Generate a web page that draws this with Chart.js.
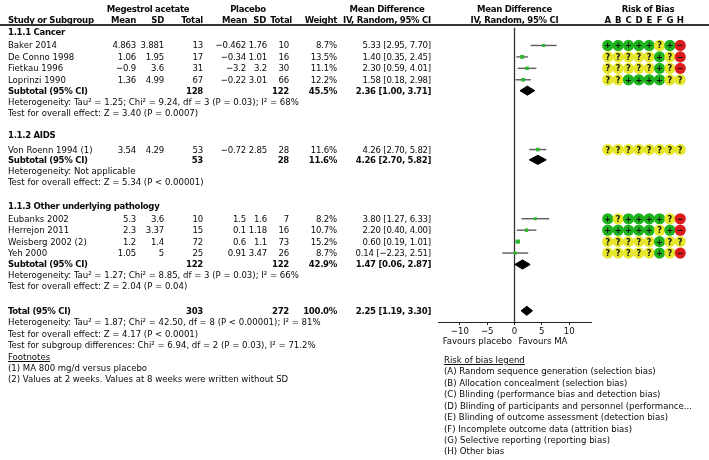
<!DOCTYPE html>
<html><head><meta charset="utf-8">
<script src="https://cdn.jsdelivr.net/npm/chart.js@4.4.0/dist/chart.umd.min.js"></script>
<style>
html,body{margin:0;padding:0;background:#fff;width:709px;height:460px;overflow:hidden;position:relative}
#forest{position:absolute;left:0;top:0}
#rob{position:absolute;left:597px;top:0}
.t{position:absolute;white-space:nowrap;line-height:12px;color:#0a0a0a}
.b{font-weight:bold;letter-spacing:-0.3px}
.n{letter-spacing:-0.2px}
.u{text-decoration:underline}
</style></head><body>
<canvas id="forest" width="709" height="460"></canvas>
<canvas id="rob" width="94" height="460"></canvas>
<div id="layer"></div>
<script>
// ---------------- DATA ----------------
const studies = ['Baker 2014','De Conno 1998','Fietkau 1996','Loprinzi 1990','Von Roenn 1994 (1)','Eubanks 2002','Herrejon 2011','Weisberg 2002 (2)','Yeh 2000'];
const studyGroup = [0,0,0,0,1,2,2,2,2];
const maMean = [4.863,1.06,-0.9,1.36,3.54,5.3,2.3,1.2,1.05];
const maSD   = [3.881,1.95,3.6,4.99,4.29,3.6,3.37,1.4,5];
const maN    = [13,17,31,67,53,10,15,72,25];
const plMean = [-0.462,-0.34,-3.2,-0.22,-0.72,1.5,0.1,0.6,0.91];
const plSD   = [1.76,1.01,3.2,3.01,2.85,1.6,1.18,1.1,3.47];
const plN    = [10,16,30,66,28,7,16,73,26];
const weight = [8.7,13.5,11.1,12.2,11.6,8.2,10.7,15.2,8.7];
const md     = [5.33,1.40,2.30,1.58,4.26,3.80,2.20,0.60,0.14];
const mdLo   = [2.95,0.35,0.59,0.18,2.70,1.27,0.40,0.19,-2.23];
const mdHi   = [7.70,2.45,4.01,2.98,5.82,6.33,4.00,1.01,2.51];

const groups   = ['1.1.1 Cancer','1.1.2 AIDS','1.1.3 Other underlying pathology'];
const subMaN   = [128,53,122];
const subPlN   = [122,28,122];
const subW     = [45.5,11.6,42.9];
const subMd    = [2.36,4.26,1.47];
const subLo    = [1.00,2.70,0.06];
const subHi    = [3.71,5.82,2.87];
const subHet   = ['Heterogeneity: Tau\u00b2 = 1.25; Chi\u00b2 = 9.24, df = 3 (P = 0.03); I\u00b2 = 68%','Heterogeneity: Not applicable','Heterogeneity: Tau\u00b2 = 1.27; Chi\u00b2 = 8.85, df = 3 (P = 0.03); I\u00b2 = 66%'];
const subTest  = ['Test for overall effect: Z = 3.40 (P = 0.0007)','Test for overall effect: Z = 5.34 (P < 0.00001)','Test for overall effect: Z = 2.04 (P = 0.04)'];

const totMaN = 303, totPlN = 272, totW = 100.0, totMd = 2.25, totLo = 1.19, totHi = 3.30;
const totLines = ['Heterogeneity: Tau\u00b2 = 1.87; Chi\u00b2 = 42.50, df = 8 (P < 0.00001); I\u00b2 = 81%','Test for overall effect: Z = 4.17 (P < 0.0001)','Test for subgroup differences: Chi\u00b2 = 6.94, df = 2 (P = 0.03), I\u00b2 = 71.2%'];
const footnotes = ['(1) MA 800 mg/d versus placebo','(2) Values at 2 weeks. Values at 8 weeks were written without SD'];

const tickVals = [-10,-5,0,5,10];
const robCols = ['A','B','C','D','E','F','G','H'];
const rob = ['+++++?+-','?????+?-','?????+?-','??++++??','????????','+?++++?-','+++++?+-','?????+??','?????+?-'];
const robLegend = ['(A) Random sequence generation (selection bias)','(B) Allocation concealment (selection bias)','(C) Blinding (performance bias and detection bias)','(D) Blinding of participants and personnel (performance...','(E) Blinding of outcome assessment (detection bias)','(F) Incomplete outcome data (attrition bias)','(G) Selective reporting (reporting bias)','(H) Other bias'];

// ---------------- LAYOUT (row units) ----------------
const studyRow = [3.2,4.2,5.2,6.2,12.3,18.35,19.35,20.35,21.35];
const headRow = [2,11,17.2];
const subRow  = [7.15,13.2,22.35];
const hetRow  = [8.15,14.2,23.3];
const testRow = [9.1,15.1,24.25];
const totalRow = 26.4;
const totLineRow = [27.4,28.4,29.4];
const footRow = [30.4,31.4,32.4];
const legendRow0 = 30.7;
const COL = {name:8, maMean:136, maSD:164, maN:203, plMean:246, plSD:267, plN:289, plNHead:292, w:337, ci:431, mdHead:387, mgHead:148, plHead:248, leg:444, robHead:648};
const DH = 0.4;

// ---------------- FONT ----------------
const FAM = '"DejaVu Sans Condensed","DejaVu Sans",sans-serif';
const mctx = document.createElement('canvas').getContext('2d');
mctx.font = '100px ' + FAM;
const FS = Math.round(100 * 280 / mctx.measureText(footnotes[1]).width * 10) / 10;
document.body.style.fontFamily = FAM;
document.body.style.fontSize = FS + 'px';
Chart.defaults.font.family = FAM;
Chart.defaults.font.size = FS;

const minus = v => String(v).replace('-', '\u2212');
const ciTxt = (m,l,h) => minus(m.toFixed(2)) + ' [' + minus(l.toFixed(2)) + ', ' + minus(h.toFixed(2)) + ']';

// ---------------- FOREST CHART ----------------
const AXH = 30;
const sqSet = {type:'scatter', order:0, data: md.map((m,i)=>({x:m,y:studyRow[i]})), pointStyle:'rect',
  pointRadius: weight.map(w=>0.75*Math.sqrt(w)), pointHoverRadius: weight.map(w=>0.75*Math.sqrt(w)),
  backgroundColor:'#2fb82f', borderWidth:0};
const ciSets = md.map((m,i)=>({type:'line', order:1, data:[{x:mdLo[i],y:studyRow[i]},{x:mdHi[i],y:studyRow[i]}],
  borderColor:'#5c5c5c', borderWidth:1.4, pointRadius:0}));
function diamond(m,l,h,r){ return {type:'line', order:0, data:[{x:l,y:r},{x:m,y:r-DH},{x:h,y:r},{x:m,y:r+DH},{x:l,y:r}],
  fill:'shape', backgroundColor:'#000', borderColor:'#000', borderWidth:1, pointRadius:0, tension:0}; }
const diaSets = subMd.map((m,g)=>diamond(m,subLo[g],subHi[g],subRow[g])).concat([diamond(totMd,totLo,totHi,totalRow)]);
const Y_MIN = -0.52, Y_MAX = 27.38;
const zeroSet = {type:'line', order:2, data:[{x:0,y:1.65},{x:0,y:Y_MAX}], borderColor:'#333', borderWidth:1.3, pointRadius:0};

const forest = new Chart(document.getElementById('forest'), {
  type:'scatter',
  data:{datasets:[sqSet].concat(diaSets, ciSets, [zeroSet])},
  options:{
    responsive:false, animation:false, events:[],
    plugins:{legend:{display:false}, tooltip:{enabled:false}},
    layout:{padding:{left:438, right:709-591, top:0, bottom:460-322-AXH}},
    scales:{
      x:{type:'linear', min:-14, max:14,
        afterBuildTicks: a => { a.ticks = tickVals.map(v=>({value:v})); },
        afterFit: s => { s.height = AXH; },
        grid:{drawOnChartArea:false, drawTicks:true, tickLength:3, color:'#222', lineWidth:1},
        border:{display:true, color:'#222', width:1},
        ticks:{color:'#111', padding:1, maxRotation:0, autoSkip:false, callback: v => minus(v)}},
      y:{type:'linear', display:false, reverse:true, min:Y_MIN, max:Y_MAX}
    }
  }
});

// ---------------- RISK OF BIAS CHART ----------------
const RC = {'+':'#1db31d','?':'#e6e62a','-':'#dc1c1c'};
const robPts = [], robColors = [], robSym = [];
rob.forEach((s,i)=>{ for (let j=0;j<robCols.length;j++){ robPts.push({x:robCols[j], y:studyRow[i]}); robColors.push(RC[s[j]]); robSym.push(s[j]); } });
const yS = forest.scales.y;
const robChart = new Chart(document.getElementById('rob'), {
  type:'scatter',
  data:{datasets:[{data:robPts, pointStyle:'circle', pointRadius:5.6, pointHoverRadius:5.6, backgroundColor:robColors, borderWidth:0}]},
  options:{
    responsive:false, animation:false, events:[], clip:false,
    plugins:{legend:{display:false}, tooltip:{enabled:false}},
    layout:{padding:{left:0,right:0,top:22,bottom:460-322}},
    scales:{
      x:{type:'category', labels:robCols, offset:true, display:false},
      y:{type:'linear', display:false, reverse:true, min:yS.getValueForPixel(22), max:yS.getValueForPixel(322)}
    }
  }
});

// ---------------- TEXT ----------------
const layer = document.getElementById('layer');
const py = r => yS.getPixelForValue(r);
function put(str, x, y, align, cls, extra){
  const d = document.createElement('div');
  d.className = 't' + (cls ? ' ' + cls : '');
  d.textContent = str;
  if (extra) Object.assign(d.style, extra);
  layer.appendChild(d);
  const w = d.getBoundingClientRect().width;
  const left = align === 'right' ? x - w : align === 'center' ? x - w/2 : x;
  d.style.left = left + 'px';
  d.style.top = (y - 6) + 'px';
}
const zx = forest.scales.x.getPixelForValue(0);
const robCanvasLeft = 597;
// headers
put('Megestrol acetate', COL.mgHead, py(0), 'center', 'b');
put('Placebo', COL.plHead, py(0), 'center', 'b');
put('Mean Difference', COL.mdHead, py(0), 'center', 'b');
put('Mean Difference', zx, py(0), 'center', 'b');
put('Risk of Bias', COL.robHead, py(0), 'center', 'b');
put('Study or Subgroup', COL.name, py(1), 'left', 'b');
put('Mean', COL.maMean, py(1), 'right', 'b');
put('SD', COL.maSD, py(1), 'right', 'b');
put('Total', COL.maN, py(1), 'right', 'b');
put('Mean', COL.plMean + 1, py(1), 'right', 'b');
put('SD', COL.plSD - 1, py(1), 'right', 'b');
put('Total', COL.plNHead, py(1), 'right', 'b');
put('Weight', COL.w, py(1), 'right', 'b');
put('IV, Random, 95% CI', COL.mdHead, py(1), 'center', 'b');
put('IV, Random, 95% CI', zx, py(1), 'center', 'b');
robCols.forEach((c,j)=>put(c, robCanvasLeft + robChart.scales.x.getPixelForValue(j), py(1), 'center', 'b'));
const hr = document.createElement('div');
hr.style.cssText = 'position:absolute;left:0;width:709px;height:1.3px;background:#333;top:' + (py(1.35)) + 'px';
layer.appendChild(hr);

// studies
studies.forEach((s,i)=>{
  const y = py(studyRow[i]);
  put(s, COL.name, y, 'left');
  put(minus(maMean[i]), COL.maMean, y, 'right', 'n');
  put(minus(maSD[i]), COL.maSD, y, 'right', 'n');
  put(String(maN[i]), COL.maN, y, 'right', 'n');
  put(minus(plMean[i]), COL.plMean, y, 'right', 'n');
  put(minus(plSD[i]), COL.plSD, y, 'right', 'n');
  put(String(plN[i]), COL.plN, y, 'right', 'n');
  put(weight[i].toFixed(1) + '%', COL.w, y, 'right', 'n');
  put(ciTxt(md[i], mdLo[i], mdHi[i]), COL.ci, y, 'right', 'n');
});
// groups
groups.forEach((g,k)=>{
  put(g, COL.name, py(headRow[k]), 'left', 'b');
  const y = py(subRow[k]);
  put('Subtotal (95% CI)', COL.name, y, 'left', 'b');
  put(String(subMaN[k]), COL.maN, y, 'right', 'b');
  put(String(subPlN[k]), COL.plN, y, 'right', 'b');
  put(subW[k].toFixed(1) + '%', COL.w, y, 'right', 'b');
  put(ciTxt(subMd[k], subLo[k], subHi[k]), COL.ci, y, 'right', 'b');
  put(subHet[k], COL.name, py(hetRow[k]), 'left');
  put(subTest[k], COL.name, py(testRow[k]), 'left');
});
// total
{
  const y = py(totalRow);
  put('Total (95% CI)', COL.name, y, 'left', 'b');
  put(String(totMaN), COL.maN, y, 'right', 'b');
  put(String(totPlN), COL.plN, y, 'right', 'b');
  put(totW.toFixed(1) + '%', COL.w, y, 'right', 'b');
  put(ciTxt(totMd, totLo, totHi), COL.ci, y, 'right', 'b');
  totLines.forEach((t,k)=>put(t, COL.name, py(totLineRow[k]), 'left'));
  put('Footnotes', COL.name, py(footRow[0]), 'left', 'u');
  footnotes.forEach((t,k)=>put(t, COL.name, py(footRow[k+1]), 'left'));
}
// favours labels
put('Favours placebo', zx - 2.5, 341, 'right');
put('Favours MA', zx + 4, 341, 'left');
// risk of bias legend
put('Risk of bias legend', COL.leg, py(legendRow0), 'left', 'u');
robLegend.forEach((t,k)=>put(t, COL.leg, py(legendRow0 + 1 + k), 'left'));
// risk of bias symbols
robChart.getDatasetMeta(0).data.forEach((el,i)=>{
  const s = robSym[i] === '-' ? '\u2212' : robSym[i];
  put(s, robCanvasLeft + el.x, el.y, 'center', 'b', {fontSize:(FS*0.95)+'px', color:'#111', letterSpacing:'0px'});
});
</script>
</body></html>
